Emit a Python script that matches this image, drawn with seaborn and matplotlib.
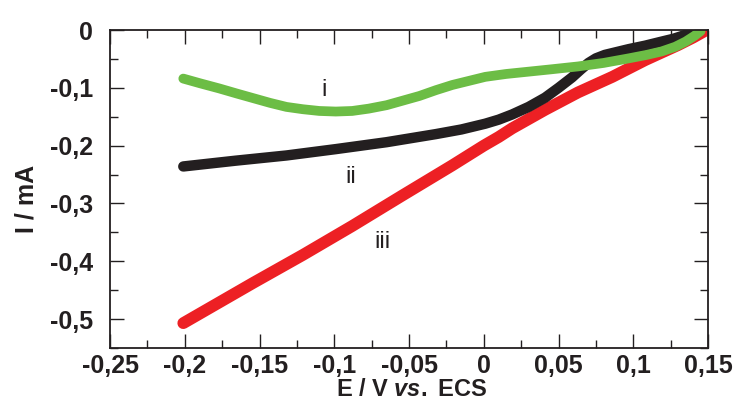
# cyclic voltammetry style plot, three curves i / ii / iii
import matplotlib
matplotlib.use("Agg")
import matplotlib.pyplot as plt
from matplotlib.ticker import MultipleLocator, FuncFormatter
import seaborn as sns

# curve i (green)
E_i = [-0.201, -0.190, -0.177, -0.165, -0.154, -0.143, -0.132, -0.121, -0.110,
       -0.099, -0.088, -0.077, -0.065, -0.054, -0.043, -0.032, -0.021, -0.010,
       0.001, 0.015, 0.030, 0.045, 0.063, 0.080, 0.097, 0.109, 0.119, 0.128,
       0.135, 0.141, 0.145]
I_i = [-0.084, -0.092, -0.101, -0.110, -0.118, -0.126, -0.133, -0.137, -0.140,
       -0.141, -0.140, -0.136, -0.130, -0.122, -0.114, -0.104, -0.095, -0.088,
       -0.081, -0.076, -0.072, -0.068, -0.063, -0.057, -0.049, -0.043, -0.037,
       -0.029, -0.020, -0.010, -0.002]

# curve ii (black)
E_ii = [-0.201, -0.166, -0.132, -0.099, -0.065, -0.032, -0.015, 0.001, 0.010,
        0.019, 0.030, 0.041, 0.050, 0.059, 0.065, 0.070, 0.075, 0.081, 0.089,
        0.097, 0.108, 0.119, 0.127, 0.133, 0.139, 0.143]
I_ii = [-0.236, -0.226, -0.217, -0.206, -0.194, -0.180, -0.172, -0.162, -0.155,
        -0.146, -0.133, -0.117, -0.100, -0.082, -0.068, -0.057, -0.049, -0.043,
        -0.038, -0.033, -0.027, -0.020, -0.015, -0.010, -0.005, 0.0]

# curve iii (red)
E_iii = [-0.201, -0.154, -0.121, -0.088, -0.055, -0.021, 0.0, 0.010, 0.019,
         0.030, 0.041, 0.063, 0.086, 0.108, 0.130, 0.140, 0.149]
I_iii = [-0.507, -0.437, -0.389, -0.339, -0.287, -0.234, -0.200, -0.185, -0.170,
         -0.154, -0.138, -0.108, -0.081, -0.052, -0.026, -0.013, 0.0]

curve_labels = ["i", "ii", "iii"]
label_pos = [(-0.1067, -0.104), (-0.0893, -0.254), (-0.068, -0.367)]

sns.set_theme(style="ticks")
plt.rcParams["font.family"] = ["Liberation Sans", "DejaVu Sans"]
plt.rcParams["mathtext.fontset"] = "custom"
plt.rcParams["mathtext.it"] = "Liberation Sans:italic:bold"
plt.rcParams["mathtext.rm"] = "Liberation Sans:bold"

fig = plt.figure(figsize=(7.36, 4.03), dpi=100)
ax = fig.add_axes([0.1495, 0.1365, 0.8125, 0.789])

sns.lineplot(x=E_iii, y=I_iii, sort=False, estimator=None, color="#ed2024",
             linewidth=8.5, solid_capstyle="round", solid_joinstyle="round", ax=ax)
sns.lineplot(x=E_ii, y=I_ii, sort=False, estimator=None, color="#231f20",
             linewidth=7.5, solid_capstyle="round", solid_joinstyle="round", ax=ax)
sns.lineplot(x=E_i, y=I_i, sort=False, estimator=None, color="#6cbd45",
             linewidth=7, solid_capstyle="round", solid_joinstyle="round", ax=ax)

for txt, (x, y) in zip(curve_labels, label_pos):
    ax.text(x, y, txt, ha="center", va="center", fontsize=17, color="#231f20")

ax.set_xlim(-0.25, 0.15)
ax.set_ylim(-0.55, 0)
ax.xaxis.set_major_locator(MultipleLocator(0.05))
ax.xaxis.set_minor_locator(MultipleLocator(0.025))
ax.yaxis.set_major_locator(MultipleLocator(0.1))
ax.yaxis.set_minor_locator(MultipleLocator(0.05))


def comma(v, pos):
    if abs(v) < 1e-9:
        return "0"
    return f"{round(v, 3):g}".replace(".", ",")


ax.xaxis.set_major_formatter(FuncFormatter(comma))
ax.yaxis.set_major_formatter(FuncFormatter(comma))

ax.tick_params(which="both", direction="in", top=True, right=True,
               color="#231f20", width=1)
ax.tick_params(which="major", length=10)
ax.tick_params(which="minor", length=5.5)
ax.tick_params(axis="y", which="major", pad=12)
ax.tick_params(axis="x", which="major", pad=4)
for lab in ax.get_xticklabels() + ax.get_yticklabels():
    lab.set_fontsize(18)
    lab.set_fontweight("bold")
    lab.set_color("#231f20")

for sp in ax.spines.values():
    sp.set_visible(True)
    sp.set_linewidth(1.3)
    sp.set_color("#231f20")

ax.set_xlabel(r"E / V $\it{vs.}$ ECS", fontsize=17, fontweight="bold",
              color="#231f20")
ax.set_ylabel("I / mA", fontsize=18, fontweight="bold", color="#231f20")
ax.xaxis.set_label_coords(0.504, -0.095)
ax.yaxis.set_label_coords(-0.12, 0.469)

fig.savefig("out.png", dpi=100)
